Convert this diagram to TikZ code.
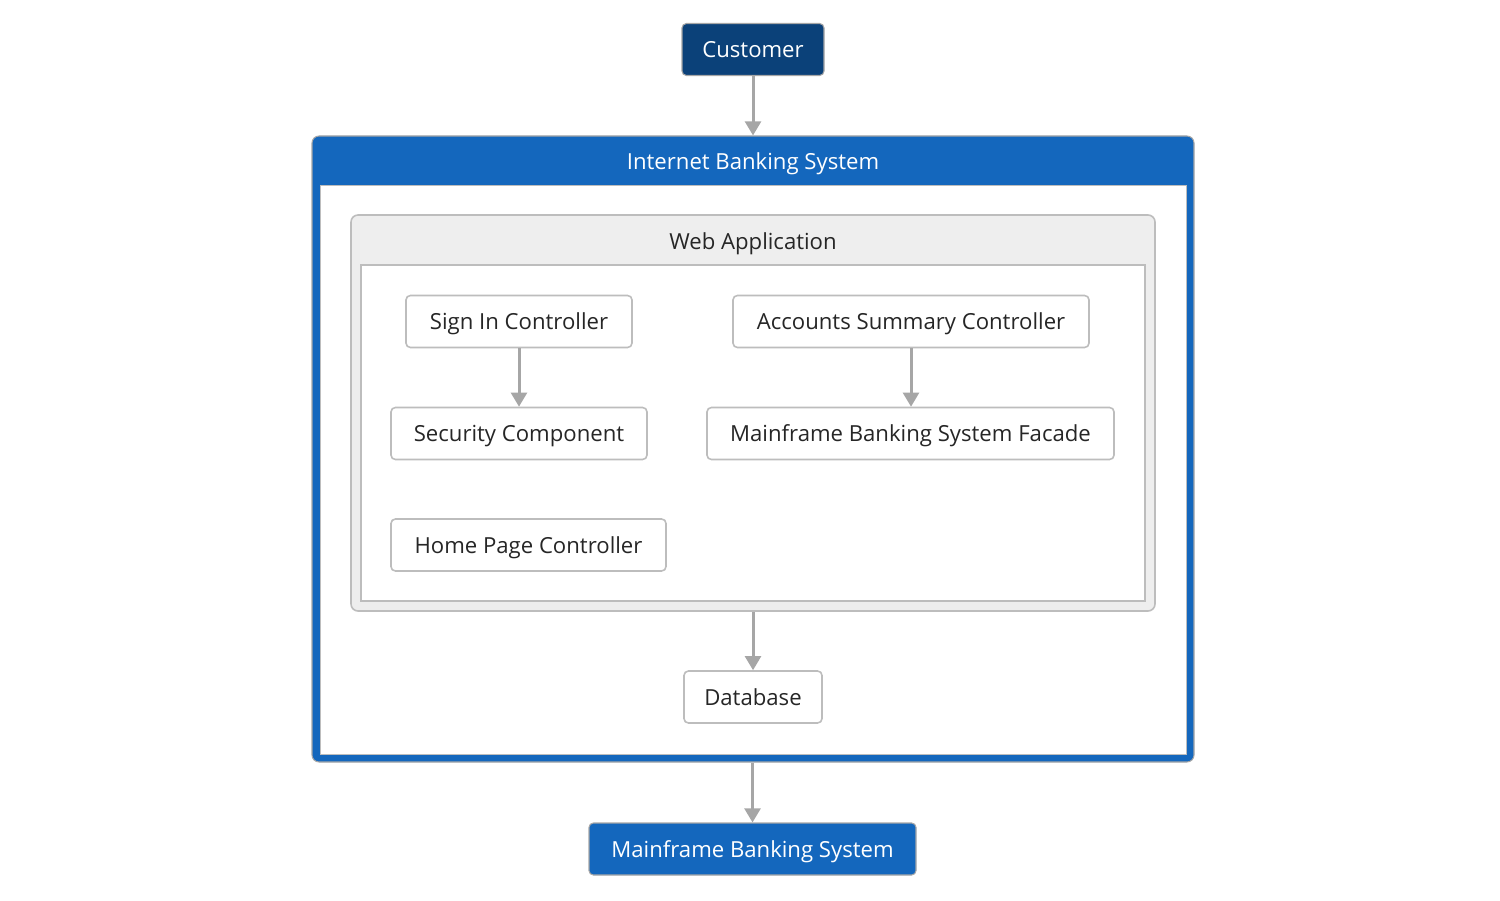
\documentclass[tikz,border=0pt]{standalone}
\usepackage{fontspec}
\setmainfont{Open Sans}
\usepackage{tikz}
\usetikzlibrary{positioning,arrows.meta,calc}
\definecolor{bkdark}{HTML}{0B4179}
\definecolor{bkblue}{HTML}{1467BD}
\definecolor{bkgray}{HTML}{A6A6A6}
\definecolor{bkline}{HTML}{BDBDBD}
\definecolor{bkpanel}{HTML}{EEEEEE}

\begin{document}
\begin{tikzpicture}[
    font=\fontsize{12.6}{14}\selectfont,
    label text/.style={text height=2.05ex, text depth=0.25ex},
    comp/.style={draw=bkline, line width=0.9pt, fill=white, rounded corners=2.5pt,
      minimum height=1.04cm, inner sep=0pt, text=black!85, label text},
    sysbox/.style={comp, draw=gray!70, line width=0.6pt, text=white},
    link/.style={draw=bkgray, line width=1.7pt, -{Triangle[length=8pt,width=9pt]}}
  ]
    \useasboundingbox (0,0) rectangle (30,18);
    \node[sysbox, fill=bkdark, minimum width=2.84cm] (cust) at (15.06,17.01) {Customer};
    \node[sysbox, fill=bkblue, minimum width=17.64cm, minimum height=12.52cm,
      rounded corners=4pt] (ibs) at (15.06,9.02) {};
    \node[fill=white, minimum width=17.32cm, minimum height=11.38cm, inner sep=0pt,
      draw=bkline, line width=0.5pt] (ibsin) at (15.06,8.61) {};
    \node[text=white, label text] (ibstitle) at (15.06,14.78) {Internet Banking System};
    \node[comp, fill=bkpanel, minimum width=16.08cm, minimum height=7.92cm,
      rounded corners=4pt] (web) at (15.06,9.74) {};
    \node[comp, rounded corners=0pt, minimum width=15.68cm, minimum height=6.72cm] (webin) at (15.06,9.34) {};
    \node[text=black!85, label text] (webtitle) at (15.06,13.18) {Web Application};
    \node[comp, minimum width=4.52cm] (signin) at (10.38,11.57) {Sign In Controller};
    \node[comp, minimum width=7.12cm] (accsum) at (18.22,11.57) {Accounts Summary Controller};
    \node[comp, minimum width=5.12cm] (secur) at (10.38,9.33) {Security Component};
    \node[comp, minimum width=8.14cm] (facade) at (18.21,9.33) {Mainframe Banking System Facade};
    \node[comp, minimum width=5.50cm] (home) at (10.57,7.10) {Home Page Controller};
    \node[comp, minimum width=2.76cm] (db) at (15.06,4.06) {Database};
    \node[sysbox, fill=bkblue, minimum width=6.54cm] (mainf) at (15.05,1.02) {Mainframe Banking System};
    \draw[link] (cust) -- (ibs);
    \draw[link] (signin) -- (secur);
    \draw[link] (accsum) -- (accsum |- facade.north);
    \draw[link] (web) -- (db);
    \draw[link] (ibs.south -| mainf) -- (mainf);
  \end{tikzpicture}
\end{document}
